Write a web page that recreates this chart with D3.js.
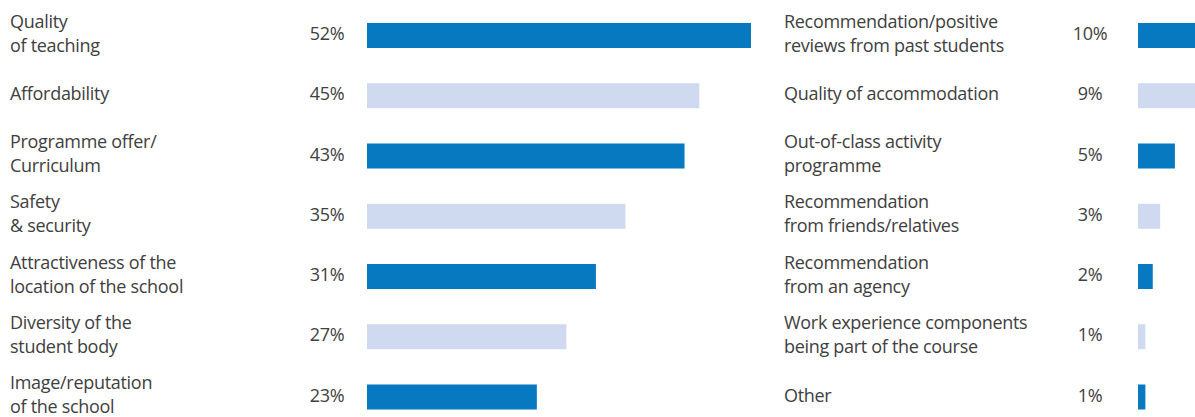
<!DOCTYPE html>
<html>
<head>
<meta charset="utf-8">
<script src="https://cdn.jsdelivr.net/npm/d3@7"></script>
<style>
  html, body { margin: 0; padding: 0; background: #fff; }
  svg { display: block; }
  text { font-family: "Open Sans", sans-serif; fill: #404040; font-size: 18px; letter-spacing: -0.3px; }
</style>
</head>
<body>
<svg id="chart" width="1195" height="417"></svg>
<script>
// Reasons for choosing a school (share of respondents, %)
const leftCategories = [
  ["Quality", "of teaching"],
  ["Affordability"],
  ["Programme offer/", "Curriculum"],
  ["Safety", "& security"],
  ["Attractiveness of the", "location of the school"],
  ["Diversity of the", "student body"],
  ["Image/reputation", "of the school"]
];
const leftValues = [52, 45, 43, 35, 31, 27, 23];

const rightCategories = [
  ["Recommendation/positive", "reviews from past students"],
  ["Quality of accommodation"],
  ["Out-of-class activity", "programme"],
  ["Recommendation", "from friends/relatives"],
  ["Recommendation", "from an agency"],
  ["Work experience components", "being part of the course"],
  ["Other"]
];
const rightValues = [10, 9, 5, 3, 2, 1, 1];

const colors = ["#0679c1", "#cfdaf0"];

const svg = d3.select("#chart");

// shared value scale: percent -> bar length in px
const xLen = d3.scaleLinear().domain([0, 52]).range([0, 384]);

// row positions (centres)
const y = d3.scalePoint().domain(d3.range(7)).range([35.5, 397]);
const barH = 25;

const panels = [
  { cats: leftCategories, vals: leftValues, labelX: 10, valueX: 327, barX: 367 },
  { cats: rightCategories, vals: rightValues, labelX: 784, valueX: 1090, barX: 1138 }
];

panels.forEach(p => {
  const g = svg.append("g");
  const rows = g.selectAll("g.row")
    .data(p.vals.map((v, i) => ({ v, i, lines: p.cats[i] })))
    .join("g").attr("class", "row");

  rows.append("rect")
    .attr("x", p.barX)
    .attr("y", d => y(d.i) - barH / 2)
    .attr("width", d => xLen(d.v))
    .attr("height", barH)
    .attr("fill", d => colors[d.i % 2]);

  rows.append("text")
    .attr("x", p.valueX)
    .attr("y", d => y(d.i) + 4.5)
    .attr("text-anchor", "middle")
    .text(d => d.v + "%");

  const lbl = rows.append("text")
    .attr("x", p.labelX);
  lbl.selectAll("tspan")
    .data(d => d.lines.map((t, k) => ({ t, k, n: d.lines.length, c: y(d.i) })))
    .join("tspan")
    .attr("x", p.labelX)
    .attr("y", d => d.n === 1 ? d.c + 4.5 : d.c - 8 + d.k * 24)
    .text(d => d.t);
});
</script>
</body>
</html>
